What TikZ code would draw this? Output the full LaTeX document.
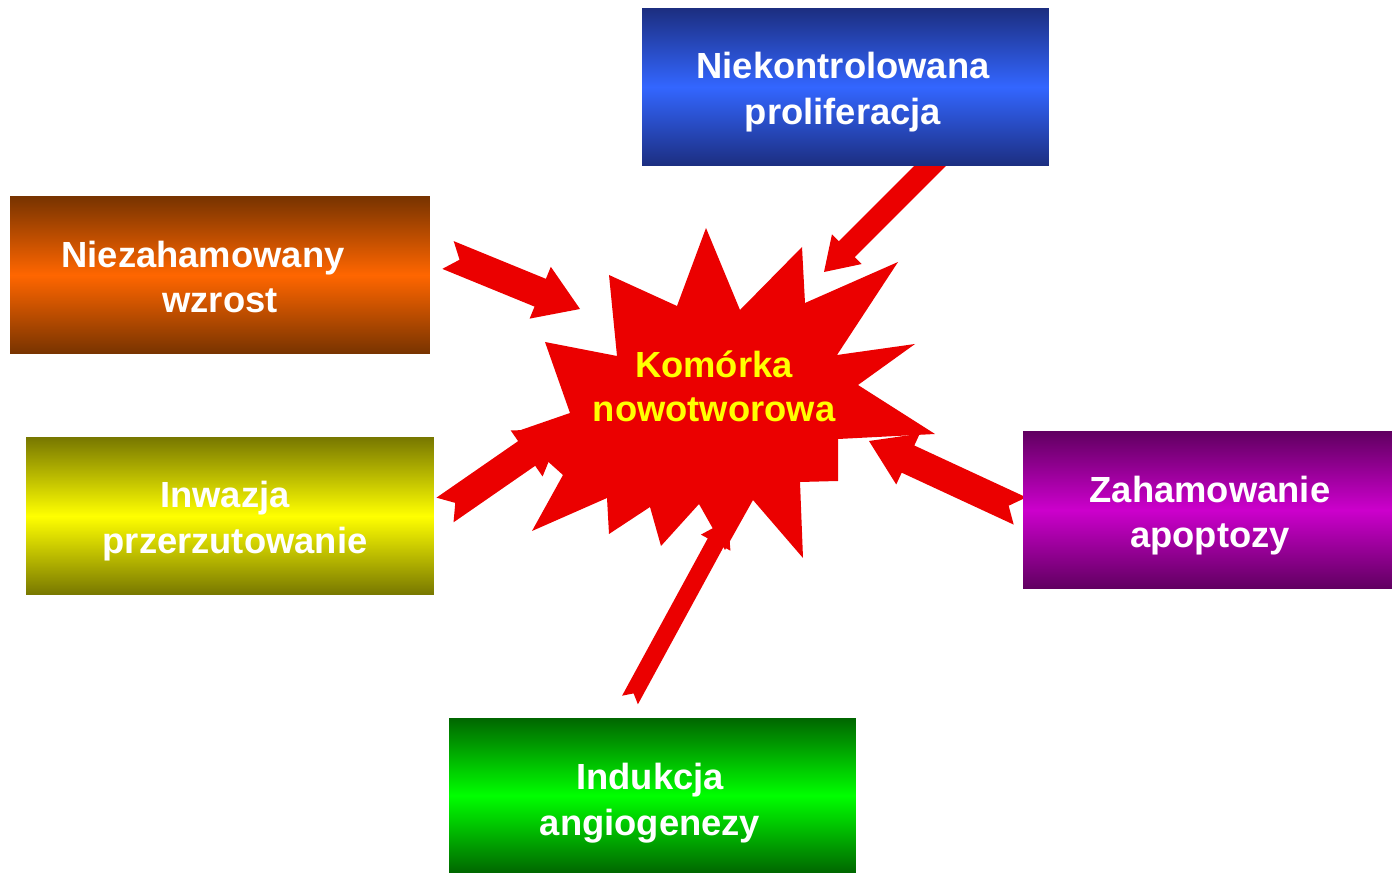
\documentclass[tikz,border=0pt]{standalone}
\usepackage{fontspec}
\setmainfont{Liberation Sans}
\usetikzlibrary{calc}
\definecolor{arrowred}{RGB}{235,0,0}
\definecolor{starred}{RGB}{235,0,0}
\definecolor{staryellow}{RGB}{255,255,0}
% block arrow with notched tail: #1 scale, #2 tail, #3 tip
\newcommand\fatarrow[3]{%
  \pgfmathsetlengthmacro\arrsw{0.3cm*#1}%
  \pgfmathsetlengthmacro\arrhw{0.56cm*#1}%
  \pgfmathsetlengthmacro\arrhl{0.86cm*#1}%
  \pgfmathsetlengthmacro\arrnd{0.25cm*#1}%
  \fill[arrowred] ($(#2)!\arrsw!90:(#3)$)
    -- ($(#3)!\arrhl!(#2)!\arrsw!-90:(#2)$)
    -- ($(#3)!\arrhl!(#2)!\arrhw!-90:(#2)$)
    -- (#3)
    -- ($(#3)!\arrhl!(#2)!\arrhw!90:(#2)$)
    -- ($(#3)!\arrhl!(#2)!\arrsw!90:(#2)$)
    -- ($(#2)!\arrsw!-90:(#3)$)
    -- ($(#2)!\arrnd!(#3)$) -- cycle;}

\begin{document}
\begin{tikzpicture}[x=0.02cm,y=-0.02cm,
  box/.style={inner sep=0pt},
  boxtext/.style={inner sep=0pt, text=white, align=center,
    font=\bfseries\fontsize{20.7}{26}\selectfont},
  bluebox/.style={box, minimum width=8.14cm, minimum height=3.16cm,
    top color={rgb,255:red,28;green,46;blue,128}, bottom color={rgb,255:red,28;green,46;blue,128},
    middle color={rgb,255:red,51;green,102;blue,255}},
  orangebox/.style={box, minimum width=8.4cm, minimum height=3.16cm,
    top color={rgb,255:red,119;green,51;blue,0}, bottom color={rgb,255:red,119;green,51;blue,0},
    middle color={rgb,255:red,255;green,102;blue,0}},
  yellowbox/.style={box, minimum width=8.16cm, minimum height=3.16cm,
    top color={rgb,255:red,119;green,119;blue,0}, bottom color={rgb,255:red,119;green,119;blue,0},
    middle color={rgb,255:red,255;green,255;blue,0}},
  purplebox/.style={box, minimum width=7.38cm, minimum height=3.16cm,
    top color={rgb,255:red,96;green,0;blue,96}, bottom color={rgb,255:red,96;green,0;blue,96},
    middle color={rgb,255:red,204;green,0;blue,204}},
  greenbox/.style={box, minimum width=8.14cm, minimum height=3.1cm,
    top color={rgb,255:red,0;green,102;blue,0}, bottom color={rgb,255:red,0;green,102;blue,0},
    middle color={rgb,255:red,0;green,255;blue,0}},
  startext/.style={inner sep=0pt, text=staryellow, align=center,
    font=\bfseries\fontsize{20.7}{25}\selectfont}]
\useasboundingbox (0,0) rectangle (1393,874);

% ends of the arrows
\coordinate (wzrost-tail) at (448,255);  \coordinate (wzrost-tip) at (580,309);
\coordinate (prolif-tail) at (940,156);  \coordinate (prolif-tip) at (824,272);
\coordinate (apopt-tail)  at (1020,511); \coordinate (apopt-tip)  at (869,441);
\coordinate (inwaz-tail)  at (445,510);  \coordinate (inwaz-tip)  at (562,429);
\coordinate (angio-tail)  at (630,700);  \coordinate (angio-tip)  at (728,520);

\fatarrow{1}{wzrost-tail}{wzrost-tip}
\fatarrow{0.75}{prolif-tail}{prolif-tip}
\fatarrow{1}{apopt-tail}{apopt-tip}
\fatarrow{1}{inwaz-tail}{inwaz-tip}
\fatarrow{0.6}{angio-tail}{angio-tip}

% the cell
\fill[starred] (706,228) -- (740,310) -- (802,247) -- (805,303) -- (898,262)
  -- (837,355) -- (915,344) -- (858,385) -- (935,434) -- (838,439) -- (838,481)
  -- (800,482) -- (803,558) -- (753,500) -- (725,550) -- (699,504) -- (661,546)
  -- (650,507) -- (609,534) -- (607,498) -- (532,531) -- (563,475) -- (515,432)
  -- (570,413) -- (545,342) -- (617,356) -- (609,275) -- (677,306) -- cycle;
\node [startext] (star) at (714,386) {Komórka\\nowotworowa};

\node [bluebox]   (prolif) at (845.5,87)    {};
\node [orangebox] (wzrost) at (220,275)     {};
\node [yellowbox] (inwaz)  at (230,516)     {};
\node [purplebox] (apopt)  at (1207.5,510)  {};
\node [greenbox]  (angio)  at (652.5,795.5) {};

\node [boxtext] (prolif-text) at (843,92)    {Niekontrolowana\\proliferacja};
\node [boxtext] (wzrost-text) at (203,277)   {Niezahamowany\\\hspace*{0.68cm}wzrost};
\node [boxtext] (inwaz-text)  at (235,521)   {Inwazja\hspace*{0.4cm}\\przerzutowanie};
\node [boxtext] (apopt-text)  at (1210,515.5) {Zahamowanie\\apoptozy};
\node [boxtext] (angio-text)  at (650,803)   {Indukcja\\angiogenezy};
\end{tikzpicture}
\end{document}
